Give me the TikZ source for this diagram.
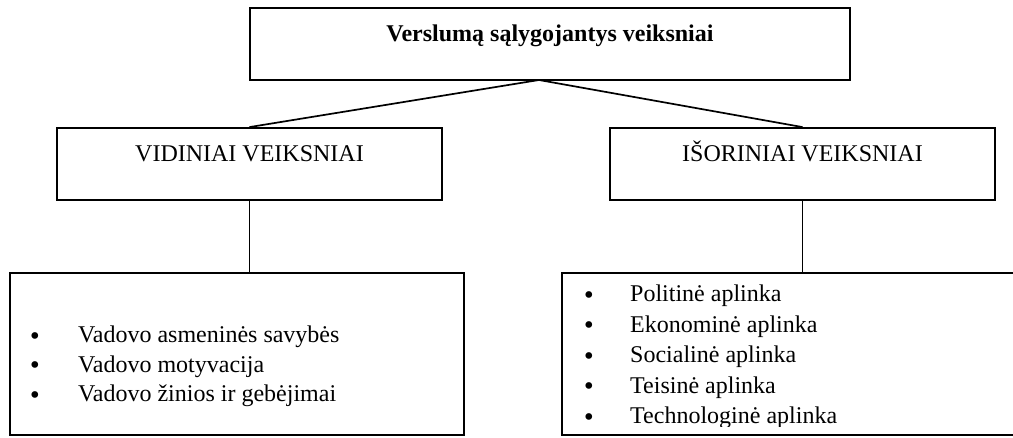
\documentclass[tikz,border=0pt]{standalone}
\usepackage{fontspec}
\setmainfont{Liberation Serif}
\newfontfamily\bulfont{DejaVu Sans}
\begin{document}
\begin{tikzpicture}[x=1pt,y=-1pt,
  box/.style={draw, line width=1.8pt, rectangle, inner sep=0pt},
  conn/.style={line width=1.7pt},
  txt/.style={anchor=base, inner sep=0pt, font=\fontsize{24}{30}\selectfont},
  itm/.style={txt, anchor=base west},
  bul/.style={anchor=base, inner sep=0pt, font=\fontsize{23}{30}\bulfont}]
\useasboundingbox (0,0) rectangle (1013,438);
\clip (0,0) rectangle (1013,438);
% boxes
\node[box, minimum width=600pt, minimum height=72pt] (top) at (550,44) {};
\node[box, minimum width=385pt, minimum height=72pt] (midL) at (249.5,164) {};
\node[box, minimum width=385pt, minimum height=72pt] (midR) at (802.5,164) {};
\node[box, minimum width=454pt, minimum height=162pt] (botL) at (237,354) {};
\node[box, minimum width=468pt, minimum height=162pt] (botR) at (796,354) {};
% texts
\node[txt] (toptext) at (550,42) {\bfseries Verslumą sąlygojantys veiksniai};
\node[txt] (midLtext) at (249.5,162) {VIDINIAI VEIKSNIAI};
\node[txt] (midRtext) at (802.5,162) {IŠORINIAI VEIKSNIAI};
% connectors
\coordinate (apex) at (539,80);
\draw[conn] (midL.north) -- (apex) -- (midR.north);
\draw[conn] (midL.south) -- (midL.south |- botL.north);
\draw[conn] (midR.south) -- (midR.south |- botR.north);
% left list
\foreach \yy/\tt [count=\i] in {343/Vadovo asmeninės savybės, 372.5/Vadovo motyvacija, 402/Vadovo žinios ir gebėjimai} {
  \node[bul] (lb\i) at (35,\yy+1.5) {•};
  \node[itm] (lt\i) at (78,\yy) {\tt};
}
% right list
\begin{scope}
\clip (562,273) rectangle (1013,427);
\foreach \yy/\tt [count=\i] in {302/Politinė aplinka, 332.5/Ekonominė aplinka, 363/Socialinė aplinka, 393.5/Teisinė aplinka, 424/Technologinė aplinka} {
  \node[bul] (rb\i) at (589,\yy+1.5) {•};
  \node[itm] (rt\i) at (630,\yy) {\tt};
}
\end{scope}
\end{tikzpicture}
\end{document}
